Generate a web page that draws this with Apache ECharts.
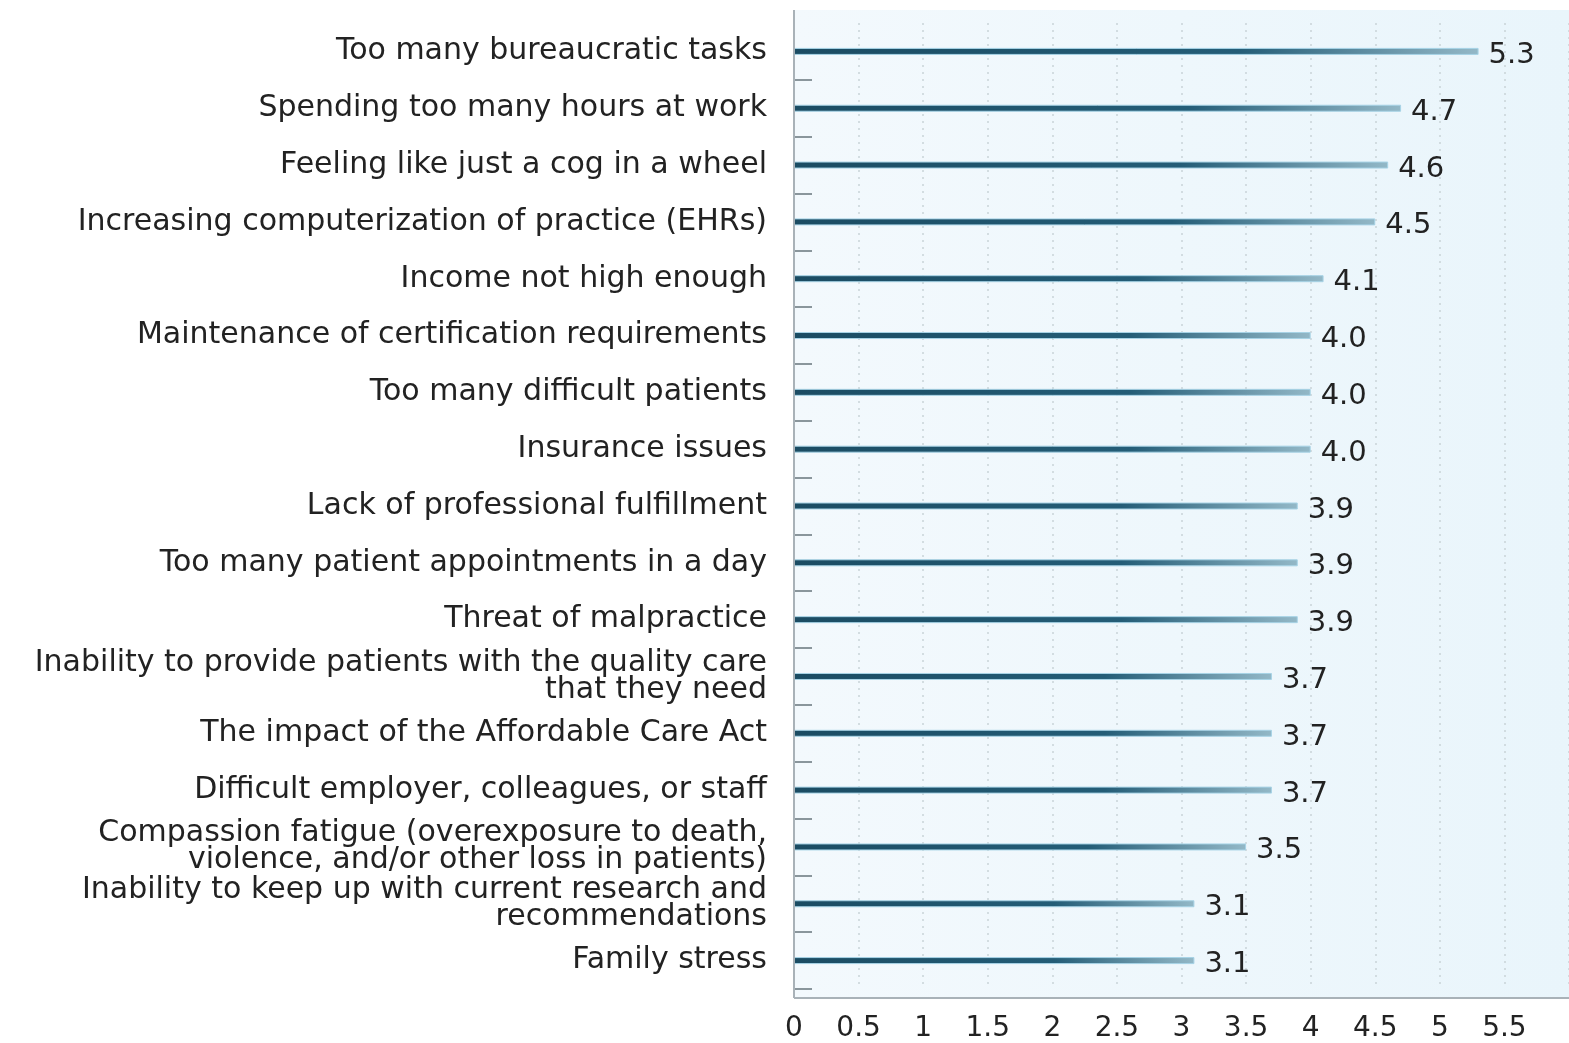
<!DOCTYPE html>
<html>
<head>
<meta charset="utf-8">
<script src="https://cdn.jsdelivr.net/npm/echarts@6/dist/echarts.min.js"></script>
<style>
  html, body { margin: 0; padding: 0; background: #fff; }
  #chart { width: 1569px; height: 1043px; }
</style>
</head>
<body>
<div id="chart"></div>
<script>
const categories = [
  'Too many bureaucratic tasks',
  'Spending too many hours at work',
  'Feeling like just a cog in a wheel',
  'Increasing computerization of practice (EHRs)',
  'Income not high enough',
  'Maintenance of certification requirements',
  'Too many difficult patients',
  'Insurance issues',
  'Lack of professional fulfillment',
  'Too many patient appointments in a day',
  'Threat of malpractice',
  'Inability to provide patients with the quality care\nthat they need',
  'The impact of the Affordable Care Act',
  'Difficult employer, colleagues, or staff',
  'Compassion fatigue (overexposure to death,\nviolence, and/or other loss in patients)',
  'Inability to keep up with current research and\nrecommendations',
  'Family stress'
];
const scores = [5.3, 4.7, 4.6, 4.5, 4.1, 4.0, 4.0, 4.0, 3.9, 3.9, 3.9, 3.7, 3.7, 3.7, 3.5, 3.1, 3.1];
const xTicks = [0, 0.5, 1, 1.5, 2, 2.5, 3, 3.5, 4, 4.5, 5, 5.5];

const FONT = '"DejaVu Sans", sans-serif';
const chart = echarts.init(document.getElementById('chart'));

chart.setOption({
  animation: false,
  backgroundColor: '#fff',
  graphic: [{
    type: 'rect',
    z: -10,
    shape: { x: 794, y: 10, width: 775, height: 988 },
    style: {
      fill: new echarts.graphic.LinearGradient(0, 0, 1, 0, [
        { offset: 0, color: '#f3f9fd' },
        { offset: 1, color: '#e9f5fb' }
      ])
    }
  }, {
    type: 'line',
    z: 10,
    shape: { x1: 794, y1: 10, x2: 794, y2: 998 },
    style: { stroke: '#a9b2b8', lineWidth: 2 }
  }, {
    type: 'line',
    z: 10,
    shape: { x1: 794, y1: 998, x2: 1569, y2: 998 },
    style: { stroke: '#a9b2b8', lineWidth: 2 }
  }],
  grid: { left: 794, right: -8, top: 23, bottom: 53, containLabel: false },
  xAxis: {
    type: 'value',
    min: 0,
    max: 6,
    interval: 0.5,
    axisLine: { show: false },
    axisTick: { show: false },
    splitLine: { show: true, lineStyle: { color: '#c9d3d8', type: [2, 5], width: 1.5 } },
    axisLabel: {
      margin: 26,
      fontFamily: FONT,
      fontSize: 28,
      color: '#222',
      showMaxLabel: false,
      formatter: v => (xTicks.includes(v) ? String(v) : '')
    }
  },
  yAxis: {
    type: 'category',
    data: categories,
    inverse: true,
    axisLine: { show: false },
    axisTick: {
      show: true,
      inside: true,
      length: 18,
      interval: i => i > 0 && i < categories.length,
      lineStyle: { color: '#8a969c', width: 2 }
    },
    axisLabel: {
      margin: 27,
      padding: [7, 0, 0, 0],
      fontFamily: FONT,
      fontSize: 30,
      lineHeight: 27,
      color: '#222',
      align: 'right'
    }
  },
  series: [{
    type: 'bar',
    data: scores,
    barWidth: 7,
    itemStyle: {
      color: new echarts.graphic.LinearGradient(0, 0, 1, 0, [
        { offset: 0, color: '#1b4c63' },
        { offset: 0.65, color: '#245d77' },
        { offset: 1, color: '#93b8c7' }
      ]),
      borderColor: '#a7d3e6',
      borderWidth: 1
    },
    label: {
      show: true,
      position: 'right',
      distance: 10,
      offset: [0, 4],
      fontFamily: FONT,
      fontSize: 29,
      color: '#222',
      formatter: p => p.value.toFixed(1)
    }
  }]
});
</script>
</body>
</html>
